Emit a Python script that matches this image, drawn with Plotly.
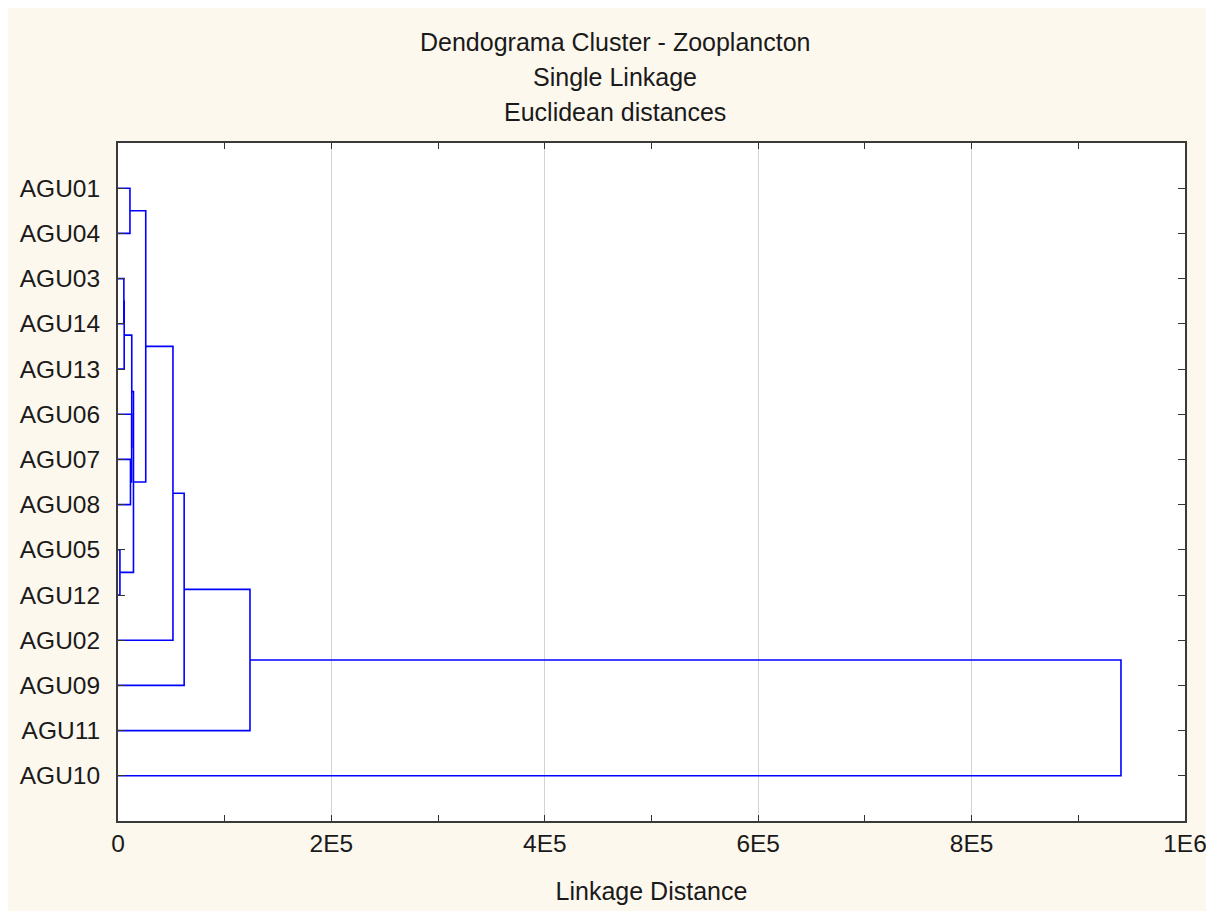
import plotly.graph_objects as go

# ---- data ----
leaf_labels = ["AGU01", "AGU04", "AGU03", "AGU14", "AGU13", "AGU06", "AGU07",
               "AGU08", "AGU05", "AGU12", "AGU02", "AGU09", "AGU11", "AGU10"]
# merges: (child_a, child_b, linkage distance); new cluster ids start at len(leaf_labels)
merge_a = [8, 2, 15, 6, 0, 5, 16, 20, 18, 22, 23, 24, 25]
merge_b = [9, 3, 4, 7, 1, 17, 19, 14, 21, 10, 11, 12, 13]
merge_dist = [1800, 5500, 5800, 11700, 11200, 12800, 12900, 14500,
              26000, 51500, 62000, 123700, 940000]
x_tick_vals = [0, 200000, 400000, 600000, 800000, 1000000]
x_tick_text = ["0", "2E5", "4E5", "6E5", "8E5", "1E6"]

title_lines = ["Dendograma Cluster - Zooplancton", "Single Linkage", "Euclidean distances"]

# ---- build dendrogram segments ----
n = len(leaf_labels)
pos = {i: (0.0, float(i)) for i in range(n)}
xs, ys = [], []
for k, (a, b, d) in enumerate(zip(merge_a, merge_b, merge_dist)):
    xa, ya = pos[a]
    xb, yb = pos[b]
    xs += [xa, d, d, xb, None]
    ys += [ya, ya, yb, yb, None]
    pos[n + k] = (d, (ya + yb) / 2)

fig = go.Figure()
fig.add_trace(go.Scatter(x=xs, y=ys, mode="lines",
                         line=dict(color="#0000FF", width=1.6),
                         hoverinfo="skip", showlegend=False))

OFF = 8  # page body margin
W, H = 1214 - OFF, 911 - OFF
L, T = 118 - OFF, 143 - OFF
R = W - (1185 - OFF)
B = H - (821 - OFF)
pw, ph = W - L - R, H - T - B

def px_x(p):
    return (p - OFF - L) / pw

def px_y(p):
    return (H - B - (p - OFF)) / ph

font_family = "Liberation Sans, Arial, sans-serif"

fig.update_layout(
    width=W, height=H,
    margin=dict(l=L, r=R, t=T, b=B, pad=0, autoexpand=False),
    paper_bgcolor="#FDF8EE",
    plot_bgcolor="#FFFFFF",
    font=dict(family=font_family, size=24.5, color="#1a1a1a"),
    showlegend=False,
    xaxis=dict(
        range=[0, 1000000], automargin=False,
        tickvals=x_tick_vals, ticktext=x_tick_text,
        ticks="inside", ticklen=6, tickcolor="#333333", tickwidth=1,
        minor=dict(dtick=100000, tick0=0, ticks="inside", ticklen=6,
                   tickcolor="#333333", showgrid=False),
        showgrid=True, gridcolor="#D3D3D3", gridwidth=1,
        showline=True, linecolor="#3a3a3a", linewidth=2, mirror="ticks",
        zeroline=False,
        tickfont=dict(size=24.5, color="#1a1a1a"),
        ticklabelstandoff=0,
        title=dict(text="Linkage Distance", font=dict(size=25), standoff=26),
    ),
    yaxis=dict(
        range=[n, -1], automargin=False,
        tickvals=list(range(n)), ticktext=leaf_labels,
        ticks="inside", ticklen=7, tickcolor="#333333", tickwidth=1,
        showgrid=False, zeroline=False,
        showline=True, linecolor="#3a3a3a", linewidth=2, mirror="ticks",
        tickfont=dict(size=24.5, color="#1a1a1a"),
        ticklabelstandoff=11,
    ),
)

for txt, yp in zip(title_lines, [42, 77, 112]):
    fig.add_annotation(text=txt, xref="paper", yref="paper",
                       x=px_x(615), y=px_y(yp), xanchor="center", yanchor="middle",
                       showarrow=False, font=dict(size=25, color="#1a1a1a"))

fig.write_html("out.html")
